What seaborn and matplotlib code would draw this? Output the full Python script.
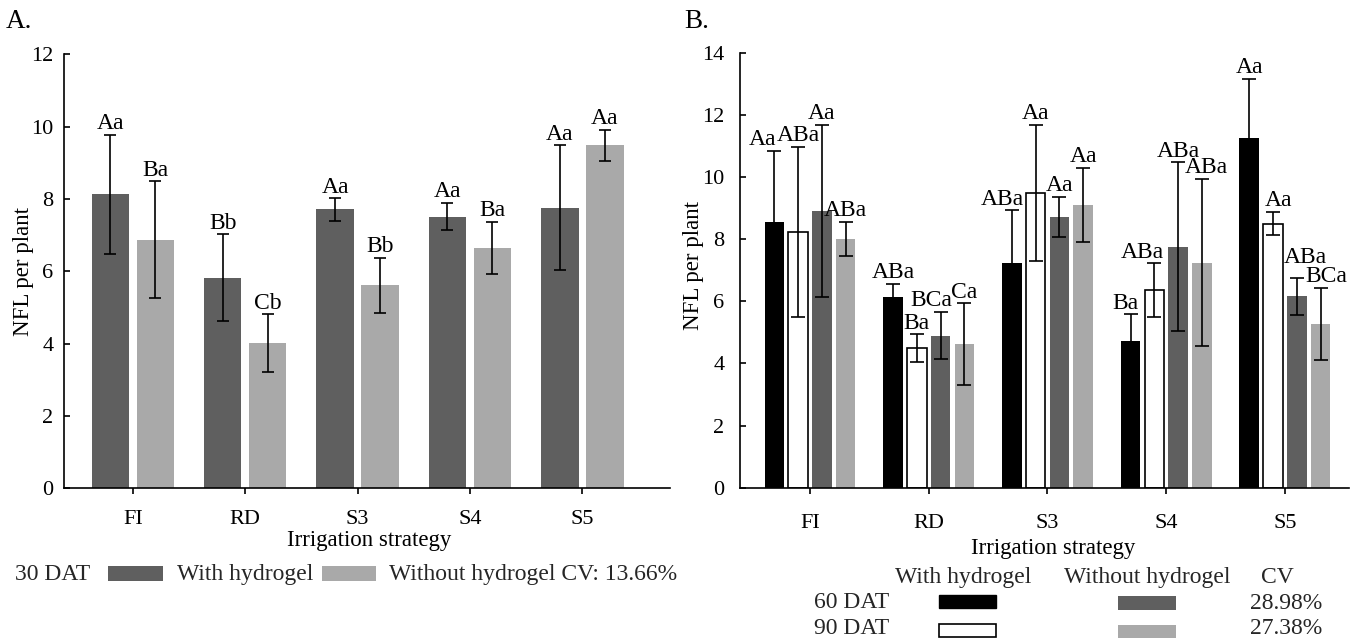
import numpy as np
import pandas as pd
import seaborn as sns
import matplotlib
matplotlib.use("Agg")
import matplotlib.pyplot as plt
from matplotlib.patches import Rectangle

# ---------------- data ----------------
categories = ["FI", "RD", "S3", "S4", "S5"]

# Panel A (30 DAT)
a_with = [8.13, 5.82, 7.71, 7.51, 7.76]
a_with_err = [1.64, 1.20, 0.31, 0.38, 1.72]
a_with_lbl = ["Aa", "Bb", "Aa", "Aa", "Aa"]
a_without = [6.87, 4.01, 5.62, 6.64, 9.48]
a_without_err = [1.62, 0.80, 0.76, 0.72, 0.43]
a_without_lbl = ["Ba", "Cb", "Bb", "Ba", "Aa"]

# Panel B (60 / 90 DAT)
b_with60 = [8.56, 6.14, 7.24, 4.73, 11.25]
b_with60_err = [2.29, 0.43, 1.69, 0.85, 1.90]
b_with60_lbl = ["Aa", "ABa", "ABa", "Ba", "Aa"]
b_with90 = [8.24, 4.49, 9.49, 6.36, 8.50]
b_with90_err = [2.74, 0.45, 2.18, 0.86, 0.38]
b_with90_lbl = ["ABa", "Ba", "Aa", "ABa", "Aa"]
b_without60 = [8.90, 4.89, 8.72, 7.75, 6.16]
b_without60_err = [2.77, 0.76, 0.65, 2.72, 0.60]
b_without60_lbl = ["Aa", "BCa", "Aa", "ABa", "ABa"]
b_without90 = [8.01, 4.61, 9.11, 7.24, 5.28]
b_without90_err = [0.55, 1.32, 1.19, 2.69, 1.16]
b_without90_lbl = ["ABa", "Ca", "Aa", "ABa", "BCa"]

cv_a = "CV: 13.66%"
cv_b60 = "28.98%"
cv_b90 = "27.38%"

# ---------------- style ----------------
sns.set_theme(style="white")
plt.rcParams["font.family"] = ["Liberation Serif", "DejaVu Serif"]
plt.rcParams["axes.linewidth"] = 1.2
plt.rcParams["axes.edgecolor"] = "black"

DARK = "#5f5f5f"
LIGHT = "#a9a9a9"
W, H = 1365, 641
PT = 0.72  # points per pixel at dpi 100

def fx(x):
    return x / W

def fy(y):
    return 1 - y / H

fig = plt.figure(figsize=(13.65, 6.41), dpi=100)
axA = fig.add_axes([fx(64.3), fy(488.3), (670 - 64.3) / W, (488.3 - 54.3) / H])
axB = fig.add_axes([fx(740), fy(487.7), (1349 - 740) / W, (487.7 - 52.7) / H])

# ---------------- build tables ----------------
dfA = pd.DataFrame({
    "strategy": categories * 2,
    "nfl": a_with + a_without,
    "group": ["With hydrogel"] * 5 + ["Without hydrogel"] * 5,
})
errA = [a_with_err, a_without_err]
lblA = [a_with_lbl, a_without_lbl]

b_groups = ["60 DAT with", "90 DAT with", "60 DAT without", "90 DAT without"]
dfB = pd.DataFrame({
    "strategy": categories * 4,
    "nfl": b_with60 + b_with90 + b_without60 + b_without90,
    "group": sum([[g] * 5 for g in b_groups], []),
})
errB = [b_with60_err, b_with90_err, b_without60_err, b_without90_err]
lblB = [b_with60_lbl, b_with90_lbl, b_without60_lbl, b_without90_lbl]

sns.barplot(data=dfA, x="strategy", y="nfl", hue="group", order=categories,
            palette=[DARK, LIGHT], width=0.8, gap=0.167, errorbar=None,
            saturation=1, linewidth=0, legend=False, ax=axA)
sns.barplot(data=dfB, x="strategy", y="nfl", hue="group", order=categories,
            hue_order=b_groups, palette=["black", "white", DARK, LIGHT],
            width=0.8, gap=0.175, errorbar=None, saturation=1, linewidth=0,
            legend=False, ax=axB)

# white bars get a black outline
for bar in axB.containers[1]:
    bar.set_edgecolor("black")
    bar.set_linewidth(1.2)

# label nudges (pixels) that keep crowded letters apart, as in the original
nudgeA = {}
nudgeB = {(0, 0): (-12, 0), (0, 2): (-10, 0), (0, 3): (-5, 0),
          (1, 3): (-12, 0), (1, 4): (5, 0),
          (2, 1): (-9, 0), (2, 4): (9, 9),
          (3, 3): (5, 0), (3, 4): (6, 0)}


def add_err_labels(ax, errs, lbls, capsize, nudges):
    for i, (cont, e, l) in enumerate(zip(ax.containers, errs, lbls)):
        xs = [b.get_x() + b.get_width() / 2 for b in cont]
        ys = [b.get_height() for b in cont]
        ax.errorbar(xs, ys, yerr=e, fmt="none", ecolor="black",
                    elinewidth=1.2, capsize=capsize, capthick=1.2, zorder=5)
        for j, (x, y, ee, t) in enumerate(zip(xs, ys, e, l)):
            dx, dy = nudges.get((i, j), (0, 0))
            ax.annotate(t, (x, y + ee), xytext=(dx * PT, 0.5 + dy * PT),
                        textcoords="offset points", ha="center", va="bottom",
                        fontsize=17, color="black", zorder=6)


add_err_labels(axA, errA, lblA, 4.3, nudgeA)
add_err_labels(axB, errB, lblB, 5.0, nudgeB)

# ---------------- axes ----------------
for ax, ymax, xl, ypad, xpad in [(axA, 12, (-0.61, 4.78), 7.9, 11.8),
                                 (axB, 14, (-0.59, 4.54), 11.3, 15.0)]:
    ax.set_ylim(0, ymax)
    ax.set_xlim(*xl)
    ax.set_yticks(np.arange(0, ymax + 1, 2))
    sns.despine(ax=ax)
    ax.spines["left"].set_color("black")
    ax.spines["bottom"].set_color("black")
    ax.tick_params(axis="y", direction="in", length=4, width=1.2,
                   labelsize=16, pad=ypad, colors="black", left=True)
    ax.tick_params(axis="x", direction="out", length=4, width=1.2,
                   labelsize=16, pad=xpad, colors="black", bottom=True)
    ax.set_ylabel("NFL per plant", fontsize=16.5, color="black")
    ax.set_xlabel("Irrigation strategy", fontsize=16.5, color="black")

axA.yaxis.set_label_coords(-0.05, 0.5)
axB.yaxis.set_label_coords(-0.059, 0.51)
axA.xaxis.set_label_coords(0.503, -0.097)
axB.xaxis.set_label_coords(0.514, -0.116)

# ---------------- panel titles ----------------
fig.text(fx(6), fy(9), "A.", fontsize=19.5, ha="left", va="top", color="black")
fig.text(fx(684), fy(9), "B.", fontsize=19.5, ha="left", va="top", color="black")

# ---------------- legend A ----------------
LFS = 17
fig.text(fx(15), fy(580), "30 DAT", fontsize=LFS, ha="left", va="baseline")
fig.patches.append(Rectangle((fx(108.3), fy(580.7)), 55 / W, 15 / H,
                             transform=fig.transFigure, facecolor=DARK,
                             edgecolor="none"))
fig.text(fx(177), fy(580), "With hydrogel", fontsize=LFS, ha="left", va="baseline")
fig.patches.append(Rectangle((fx(322), fy(580.7)), 54.4 / W, 15 / H,
                             transform=fig.transFigure, facecolor=LIGHT,
                             edgecolor="none"))
fig.text(fx(388.6), fy(580), "Without hydrogel " + cv_a, fontsize=LFS,
         ha="left", va="baseline")

# ---------------- legend B ----------------
fig.text(fx(895), fy(583), "With hydrogel", fontsize=LFS, ha="left", va="baseline")
fig.text(fx(1064), fy(583), "Without hydrogel", fontsize=LFS, ha="left", va="baseline")
fig.text(fx(1261), fy(583), "CV", fontsize=LFS, ha="left", va="baseline")

fig.text(fx(813.8), fy(608.5), "60 DAT", fontsize=LFS, ha="left", va="baseline")
fig.patches.append(Rectangle((fx(938.8), fy(608.3)), 57 / W, 13.3 / H,
                             transform=fig.transFigure, facecolor="black",
                             edgecolor="black", linewidth=1.0))
fig.patches.append(Rectangle((fx(1117.7), fy(610)), 58 / W, 14 / H,
                             transform=fig.transFigure, facecolor=DARK,
                             edgecolor="none"))
fig.text(fx(1250), fy(609), cv_b60, fontsize=LFS, ha="left", va="baseline")

fig.text(fx(813.8), fy(633.5), "90 DAT", fontsize=LFS, ha="left", va="baseline")
fig.patches.append(Rectangle((fx(938.8), fy(636.7)), 57 / W, 12.7 / H,
                             transform=fig.transFigure, facecolor="white",
                             edgecolor="black", linewidth=1.2))
fig.patches.append(Rectangle((fx(1117.7), fy(638)), 58 / W, 13 / H,
                             transform=fig.transFigure, facecolor=LIGHT,
                             edgecolor="none"))
fig.text(fx(1250), fy(634), cv_b90, fontsize=LFS, ha="left", va="baseline")

fig.savefig("out.png", dpi=100, facecolor="white")
